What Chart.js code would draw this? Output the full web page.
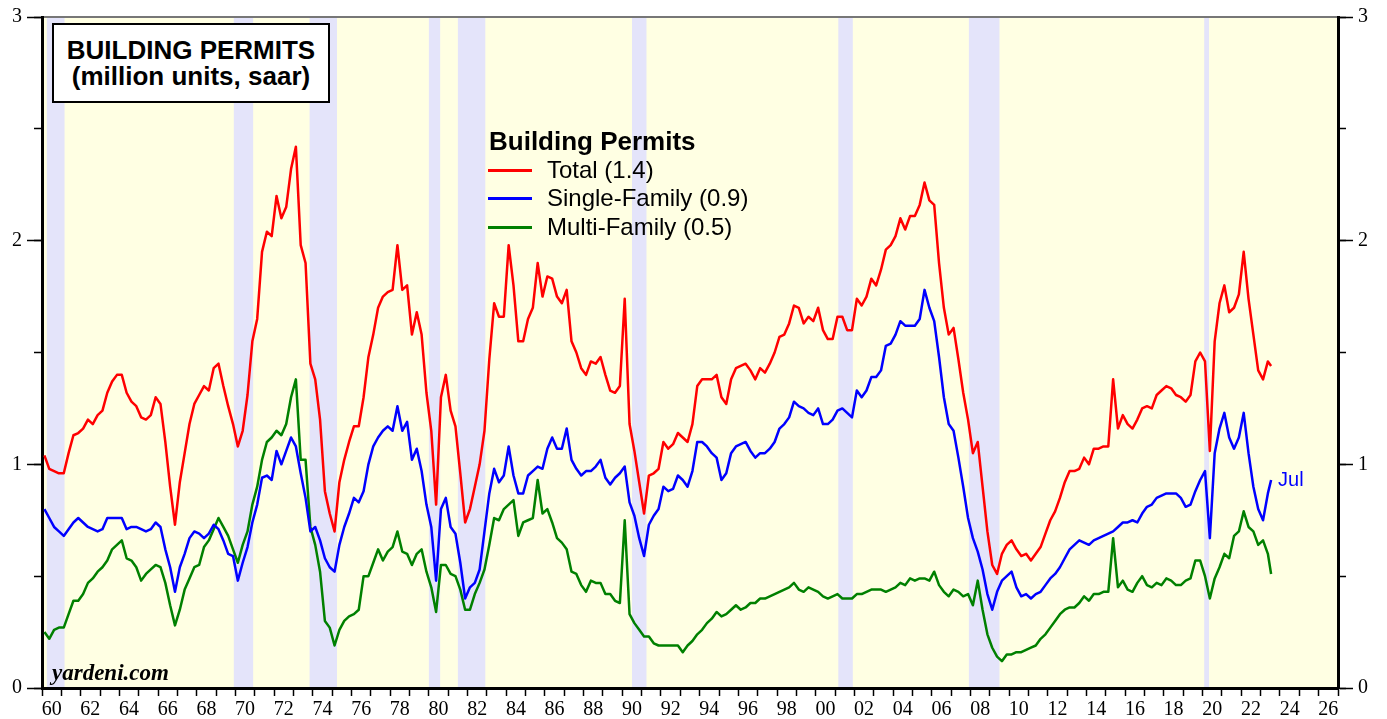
<!DOCTYPE html>
<html>
<head>
<meta charset="utf-8">
<script src="https://cdn.jsdelivr.net/npm/chart.js@4.4.0/dist/chart.umd.min.js"></script>
<style>
  body { margin: 0; background: #fff; }
  #wrap { position: relative; width: 1387px; height: 719px; overflow: hidden; }
  #titulo {
    position: absolute; left: 52px; top: 23px; width: 278px; height: 80px;
    box-sizing: border-box; border: 2px solid #000; background: #fff;
    padding-top: 12px; text-align: center;
    font: bold 26px/26px "Liberation Sans", Arial, sans-serif; color: #000;
  }
  .leg { position: absolute; font-family: "Liberation Sans", Arial, sans-serif; color: #000; white-space: nowrap; }
  .leg-titulo { left: 489px; top: 126px; font-weight: bold; font-size: 26px; line-height: 30px; }
  .leg-item { left: 488px; font-size: 24px; line-height: 28px; }
  .leg-item span { display: inline-block; width: 44px; height: 3px; vertical-align: middle; margin-right: 15px; position: relative; top: -1px; }
  #fonte {
    position: absolute; left: 52px; top: 659px;
    font: italic bold 23px/28px "Liberation Serif", "Times New Roman", serif; color: #000;
  }
</style>
</head>
<body>
<div id="wrap">
  <canvas id="permitsChart" width="1387" height="719"></canvas>
  <div id="titulo">BUILDING PERMITS<br>(million units, saar)</div>
  <div class="leg leg-titulo">Building Permits</div>
  <div class="leg leg-item" style="top:156px"><span style="background:#ff0000"></span>Total (1.4)</div>
  <div class="leg leg-item" style="top:184px"><span style="background:#0000ff"></span>Single-Family (0.9)</div>
  <div class="leg leg-item" style="top:213px"><span style="background:#008000"></span>Multi-Family (0.5)</div>
  <div id="fonte">yardeni.com</div>
</div>
<script>
// Períodos trimestrais (mês central), último ponto = julho 2023
const periodos = [];
for (let ano = 1960; ano <= 2023; ano++) {
  for (const mes of [2, 5, 8, 11]) {
    if (ano === 2023 && mes > 5) break;
    periodos.push(ano + "-" + String(mes).padStart(2, "0"));
  }
}
periodos.push("2023-07");

// Total (milhões de unidades, saar)
const total = [
  1.04, 0.98, 0.97, 0.96,  0.96, 1.05, 1.13, 1.14,
  1.16, 1.20, 1.18, 1.22,  1.24, 1.32, 1.37, 1.40,
  1.40, 1.32, 1.28, 1.26,  1.21, 1.20, 1.22, 1.30,
  1.27, 1.10, 0.90, 0.73,  0.92, 1.05, 1.18, 1.27,
  1.31, 1.35, 1.33, 1.43,  1.45, 1.35, 1.26, 1.18,
  1.08, 1.15, 1.31, 1.55,  1.65, 1.95, 2.04, 2.02,
  2.20, 2.10, 2.15, 2.32,  2.42, 1.98, 1.90, 1.45,
  1.38, 1.20, 0.88, 0.78,  0.70, 0.92, 1.02, 1.10,
  1.17, 1.17, 1.30, 1.48,  1.58, 1.70, 1.75, 1.77,
  1.78, 1.98, 1.78, 1.80,  1.58, 1.68, 1.58, 1.32,
  1.15, 0.82, 1.30, 1.40,  1.24, 1.17, 0.96, 0.74,
  0.80, 0.90, 1.00, 1.15,  1.47, 1.72, 1.66, 1.66,
  1.98, 1.80, 1.55, 1.55,  1.65, 1.70, 1.90, 1.75,
  1.84, 1.83, 1.75, 1.72,  1.78, 1.55, 1.50, 1.43,
  1.40, 1.46, 1.45, 1.48,  1.40, 1.33, 1.32, 1.35,
  1.74, 1.18, 1.06, 0.92,  0.78, 0.95, 0.96, 0.98,
  1.10, 1.07, 1.09, 1.14,  1.12, 1.10, 1.18, 1.35,
  1.38, 1.38, 1.38, 1.40,  1.30, 1.27, 1.38, 1.43,
  1.44, 1.45, 1.42, 1.38,  1.43, 1.41, 1.45, 1.50,
  1.57, 1.58, 1.63, 1.71,  1.70, 1.63, 1.66, 1.64,
  1.70, 1.60, 1.56, 1.56,  1.66, 1.66, 1.60, 1.60,
  1.74, 1.71, 1.75, 1.83,  1.80, 1.87, 1.96, 1.98,
  2.02, 2.10, 2.05, 2.11,  2.11, 2.16, 2.26, 2.18,
  2.16, 1.90, 1.70, 1.58,  1.61, 1.47, 1.32, 1.20,
  1.05, 1.10, 0.90, 0.70,  0.55, 0.51, 0.60, 0.64,
  0.66, 0.62, 0.59, 0.60,  0.57, 0.60, 0.63, 0.69,
  0.75, 0.79, 0.85, 0.92,  0.97, 0.97, 0.98, 1.03,
  1.00, 1.07, 1.07, 1.08,  1.08, 1.38, 1.16, 1.22,
  1.18, 1.16, 1.20, 1.25,  1.26, 1.25, 1.31, 1.33,
  1.35, 1.34, 1.31, 1.30,  1.28, 1.31, 1.46, 1.50,
  1.46, 1.06, 1.55, 1.72,  1.80, 1.68, 1.70, 1.76,
  1.95, 1.74, 1.58, 1.42,  1.38, 1.46, 1.44
];

// Unifamiliar
const unifamiliar = [
  0.80, 0.76, 0.72, 0.70,  0.68, 0.71, 0.74, 0.76,
  0.74, 0.72, 0.71, 0.70,  0.71, 0.76, 0.76, 0.76,
  0.76, 0.71, 0.72, 0.72,  0.71, 0.70, 0.71, 0.74,
  0.72, 0.62, 0.54, 0.43,  0.54, 0.60, 0.67, 0.70,
  0.69, 0.67, 0.69, 0.73,  0.71, 0.66, 0.60, 0.59,
  0.48, 0.56, 0.63, 0.74,  0.82, 0.94, 0.95, 0.93,
  1.06, 1.00, 1.06, 1.12,  1.08, 0.96, 0.85, 0.70,
  0.72, 0.66, 0.58, 0.54,  0.52, 0.64, 0.72, 0.78,
  0.85, 0.83, 0.88, 1.00,  1.08, 1.12, 1.15, 1.17,
  1.15, 1.26, 1.15, 1.19,  1.02, 1.07, 0.97, 0.82,
  0.72, 0.48, 0.80, 0.85,  0.72, 0.69, 0.56, 0.40,
  0.45, 0.47, 0.53, 0.70,  0.87, 0.98, 0.92, 0.95,
  1.08, 0.95, 0.87, 0.87,  0.95, 0.97, 0.99, 0.98,
  1.07, 1.12, 1.07, 1.07,  1.16, 1.02, 0.98, 0.95,
  0.97, 0.97, 0.99, 1.02,  0.94, 0.91, 0.94, 0.96,
  0.99, 0.83, 0.77, 0.67,  0.59, 0.73, 0.77, 0.80,
  0.90, 0.88, 0.89, 0.95,  0.93, 0.90, 0.97, 1.10,
  1.10, 1.08, 1.05, 1.03,  0.93, 0.96, 1.05, 1.08,
  1.09, 1.10, 1.06, 1.03,  1.05, 1.05, 1.07, 1.10,
  1.16, 1.18, 1.21, 1.28,  1.26, 1.25, 1.23, 1.22,
  1.25, 1.18, 1.18, 1.20,  1.24, 1.25, 1.23, 1.21,
  1.33, 1.30, 1.33, 1.39,  1.39, 1.42, 1.53, 1.54,
  1.58, 1.64, 1.62, 1.62,  1.62, 1.65, 1.78, 1.70,
  1.64, 1.48, 1.30, 1.18,  1.15, 1.03, 0.90, 0.76,
  0.67, 0.61, 0.53, 0.42,  0.35, 0.43, 0.48, 0.50,
  0.52, 0.45, 0.41, 0.42,  0.40, 0.42, 0.43, 0.46,
  0.49, 0.51, 0.54, 0.58,  0.62, 0.64, 0.66, 0.65,
  0.64, 0.66, 0.67, 0.68,  0.69, 0.70, 0.72, 0.74,
  0.74, 0.75, 0.74, 0.78,  0.81, 0.82, 0.85, 0.86,
  0.87, 0.87, 0.87, 0.85,  0.81, 0.82, 0.88, 0.93,
  0.97, 0.67, 1.05, 1.16,  1.23, 1.12, 1.07, 1.12,
  1.23, 1.05, 0.90, 0.80,  0.75, 0.87, 0.93
];

// Multifamiliar
const multifamiliar = [
  0.25, 0.22, 0.26, 0.27,  0.27, 0.33, 0.39, 0.39,
  0.42, 0.47, 0.49, 0.52,  0.54, 0.57, 0.62, 0.64,
  0.66, 0.58, 0.57, 0.54,  0.48, 0.51, 0.53, 0.55,
  0.54, 0.47, 0.37, 0.28,  0.35, 0.44, 0.49, 0.54,
  0.55, 0.63, 0.66, 0.71,  0.76, 0.72, 0.68, 0.62,
  0.56, 0.64, 0.70, 0.82,  0.90, 1.02, 1.10, 1.12,
  1.15, 1.13, 1.18, 1.30,  1.38, 1.02, 1.02, 0.72,
  0.64, 0.52, 0.30, 0.27,  0.19, 0.26, 0.30, 0.32,
  0.33, 0.35, 0.50, 0.50,  0.56, 0.62, 0.57, 0.61,
  0.63, 0.70, 0.61, 0.60,  0.55, 0.60, 0.62, 0.52,
  0.45, 0.34, 0.55, 0.55,  0.51, 0.50, 0.44, 0.35,
  0.35, 0.42, 0.47, 0.53,  0.64, 0.76, 0.75, 0.80,
  0.82, 0.84, 0.68, 0.74,  0.75, 0.76, 0.93, 0.78,
  0.80, 0.74, 0.67, 0.65,  0.62, 0.52, 0.51, 0.46,
  0.43, 0.48, 0.47, 0.47,  0.42, 0.42, 0.39, 0.38,
  0.75, 0.33, 0.29, 0.26,  0.23, 0.23, 0.20, 0.19,
  0.19, 0.19, 0.19, 0.19,  0.16, 0.19, 0.21, 0.24,
  0.26, 0.29, 0.31, 0.34,  0.32, 0.33, 0.35, 0.37,
  0.35, 0.36, 0.38, 0.38,  0.40, 0.40, 0.41, 0.42,
  0.43, 0.44, 0.45, 0.47,  0.44, 0.43, 0.45, 0.44,
  0.43, 0.41, 0.40, 0.41,  0.42, 0.40, 0.40, 0.40,
  0.42, 0.42, 0.43, 0.44,  0.44, 0.44, 0.43, 0.44,
  0.45, 0.47, 0.46, 0.49,  0.48, 0.49, 0.49, 0.48,
  0.52, 0.46, 0.43, 0.41,  0.44, 0.43, 0.41, 0.42,
  0.37, 0.48, 0.35, 0.24,  0.18, 0.14, 0.12, 0.15,
  0.15, 0.16, 0.16, 0.17,  0.18, 0.19, 0.22, 0.24,
  0.27, 0.30, 0.33, 0.35,  0.36, 0.36, 0.38, 0.41,
  0.39, 0.42, 0.42, 0.43,  0.43, 0.67, 0.45, 0.48,
  0.44, 0.43, 0.47, 0.50,  0.46, 0.45, 0.47, 0.46,
  0.49, 0.48, 0.46, 0.46,  0.48, 0.49, 0.57, 0.57,
  0.50, 0.40, 0.49, 0.54,  0.60, 0.58, 0.68, 0.70,
  0.79, 0.72, 0.70, 0.64,  0.66, 0.60, 0.51
];

// Recessões (início, fim)
const recessoes = [
  ["1960-04", "1961-02"], ["1969-12", "1970-11"], ["1973-11", "1975-03"],
  ["1980-01", "1980-07"], ["1981-07", "1982-11"], ["1990-07", "1991-03"],
  ["2001-03", "2001-11"], ["2007-12", "2009-06"], ["2020-02", "2020-04"]
];

const anoInicio = 1960;
const anoFim = 2027;
const rotuloUltimo = "Jul";

function paraAno(s, ajuste) {
  const [a, m] = s.split("-").map(Number);
  return a + (m - 1 + ajuste) / 12;
}

const pontos = (valores) => valores.map((v, i) => ({ x: paraAno(periodos[i], 0.5), y: v }));

const fundo = {
  id: "fundo",
  beforeDraw(chart) {
    const { ctx, chartArea: a, scales } = chart;
    ctx.save();
    ctx.fillStyle = "#ffffe3";
    ctx.fillRect(a.left, a.top, a.right - a.left, a.bottom - a.top);
    ctx.fillStyle = "#e4e4fa";
    recessoes.forEach(([ini, fim]) => {
      const x0 = scales.x.getPixelForValue(paraAno(ini, 0));
      const x1 = scales.x.getPixelForValue(paraAno(fim, 1));
      ctx.fillRect(x0, a.top, x1 - x0, a.bottom - a.top);
    });
    ctx.restore();
  },
  afterDatasetsDraw(chart) {
    const meta = chart.getDatasetMeta(1);
    const ultimo = meta.data[meta.data.length - 1];
    const { ctx } = chart;
    ctx.save();
    ctx.fillStyle = "#0000ff";
    ctx.font = '20px "Liberation Sans", Arial, sans-serif';
    ctx.textBaseline = "middle";
    ctx.fillText(rotuloUltimo, ultimo.x + 7, ultimo.y);
    ctx.restore();
  }
};

const fonteNum = { family: '"Liberation Serif", "Times New Roman", serif', size: 20 };

const eixoY = (lado, peso, largura) => ({
  type: "linear", position: lado, weight: peso, min: 0, max: 3,
  ticks: { stepSize: 1, color: "#000", font: fonteNum, padding: 5 },
  grid: { drawOnChartArea: false, tickLength: 15, tickColor: "#000", tickWidth: 1.5 },
  border: { color: "#000", width: 3 },
  afterFit: (s) => { s.width = largura; }
});

const eixoYMenor = (lado) => ({
  type: "linear", position: lado, weight: 0, min: 0, max: 3,
  ticks: { stepSize: 0.5, display: false },
  grid: { drawOnChartArea: false, tickLength: 8, tickColor: "#000", tickWidth: 1.5 },
  border: { display: false },
  afterFit: (s) => { s.width = 0; }
});

const ctx = document.getElementById("permitsChart").getContext("2d");

const permitsChart = new Chart(ctx, {
  type: "line",
  data: {
    datasets: [
      { label: "Total", data: pontos(total), borderColor: "#ff0000" },
      { label: "Single-Family", data: pontos(unifamiliar), borderColor: "#0000ff" },
      { label: "Multi-Family", data: pontos(multifamiliar), borderColor: "#008000" }
    ]
  },
  options: {
    responsive: false,
    animation: false,
    devicePixelRatio: 1,
    layout: { padding: { top: 16, left: 0, right: 0, bottom: 0 } },
    elements: {
      line: { borderWidth: 2.5, tension: 0, borderJoinStyle: "round" },
      point: { radius: 0 }
    },
    plugins: { legend: { display: false }, tooltip: { enabled: false } },
    scales: {
      x: {
        type: "linear", position: "bottom", min: anoInicio, max: anoFim,
        afterBuildTicks: (s) => {
          const t = [];
          for (let v = anoInicio; v <= anoFim; v += 0.5) t.push({ value: v });
          s.ticks = t;
        },
        ticks: {
          autoSkip: false, maxRotation: 0, minRotation: 0, color: "#000", font: fonteNum, padding: 2,
          callback: (v) => {
            const a = Math.floor(v);
            return (v - a === 0.5 && a % 2 === 0) ? String(a % 100).padStart(2, "0") : "";
          }
        },
        grid: {
          drawOnChartArea: false, tickLength: 8, tickWidth: 1.5,
          tickColor: (c) => (c.tick && Number.isInteger(c.tick.value)) ? "#000" : "rgba(0,0,0,0)"
        },
        border: { color: "#000", width: 3 },
        afterFit: (s) => { s.height = 31; }
      },
      xTopo: {
        type: "linear", position: "top", min: anoInicio, max: anoFim,
        ticks: { display: false },
        grid: { drawOnChartArea: false, drawTicks: false },
        border: { color: "#777", width: 2 },
        afterFit: (s) => { s.height = 0; }
      },
      y: eixoY("left", 1, 42),
      yMenor: eixoYMenor("left"),
      yDir: eixoY("right", 1, 49),
      yDirMenor: eixoYMenor("right")
    }
  },
  plugins: [fundo]
});
</script>
</body>
</html>
